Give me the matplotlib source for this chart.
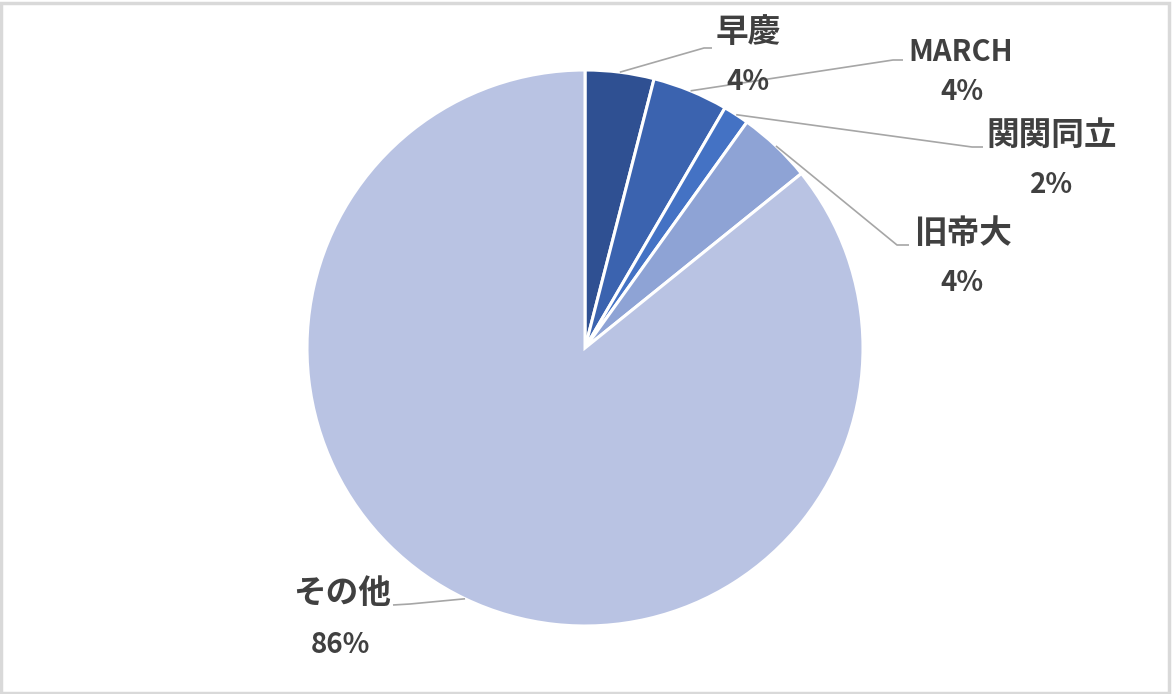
import matplotlib
matplotlib.use("Agg")
import matplotlib.pyplot as plt
from matplotlib.patches import Rectangle
import numpy as np

plt.rcParams['font.family'] = ['Noto Sans CJK JP', 'DejaVu Sans']

# data
labels = ['早慶', 'MARCH', '関関同立', '旧帝大', 'その他']
shares = [4.0, 4.4, 1.5, 4.3, 85.8]
colors = ['#2F5092', '#3B63AF', '#4472C4', '#8EA3D5', '#B9C3E3']

# layout in pixels (y measured from top)
W, H = 1172, 694
center_px = (585, 348)
radius_px = 278
name_pos = [(748, 32), (961, 52), (1052, 135), (963, 233), (342, 593)]
pct_pos = [(748, 82), (962, 92), (1052, 185), (962, 283), (340, 645)]
name_size = [23.5, 21, 23.5, 23.5, 23.5]
elbows = [(704, 48), (893, 60), (972, 147), (897, 245), (410, 604)]
ends = [(712, 48), (903, 60), (983, 147), (909, 245), (393, 605)]

txt_color = '#404040'
line_color = '#A6A6A6'

fig = plt.figure(figsize=(W / 100, H / 100), dpi=100)
ax = fig.add_axes([0, 0, 1, 1])

cx, cy = center_px[0], H - center_px[1]
wedges, _ = ax.pie(shares, colors=colors, startangle=90, counterclock=False,
                   center=(cx, cy), radius=radius_px, frame=True,
                   wedgeprops=dict(edgecolor='white', linewidth=2.2))
ax.set_xlim(0, W)
ax.set_ylim(0, H)
ax.axis('off')

for i, w in enumerate(wedges):
    mid = np.deg2rad((w.theta1 + w.theta2) / 2)
    sx = cx + radius_px * np.cos(mid)
    sy = cy + radius_px * np.sin(mid)
    ex, ey = elbows[i]
    fx, fy = ends[i]
    ax.plot([sx, ex, fx], [sy, H - ey, H - fy], color=line_color, lw=1.2,
            solid_capstyle='butt', zorder=1)
    nx, ny = name_pos[i]
    ax.text(nx, H - ny, labels[i], ha='center', va='center',
            fontsize=name_size[i], fontweight='bold', color=txt_color)
    px, py = pct_pos[i]
    ax.text(px, H - py, '%.0f%%' % round(shares[i]), ha='center', va='center',
            fontsize=20, fontweight='bold', color=txt_color)

# light frame around the chart
fig.patches.append(Rectangle((1 / W, 1 / H), 1 - 4 / W, 1 - 4 / H,
                             transform=fig.transFigure, fill=False,
                             edgecolor='#D9D9D9', lw=2.5))

fig.savefig('out.png', dpi=100, facecolor='white')
